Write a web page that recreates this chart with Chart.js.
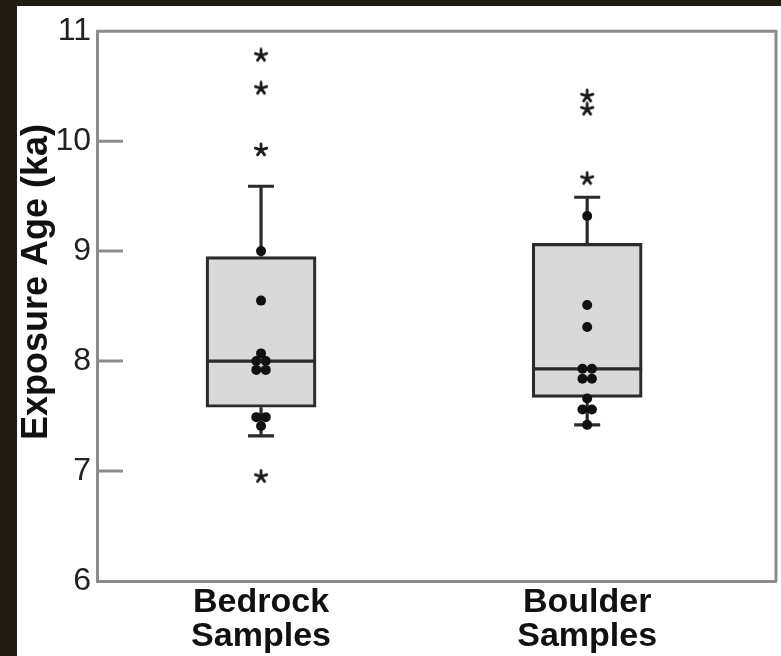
<!DOCTYPE html>
<html lang="en">
  <head>
    <meta charset="UTF-8" />
    <title>Exposure Age Box Plot</title>
    <script src="https://cdn.jsdelivr.net/npm/chart.js"></script>
    <style>
      html, body {
        margin: 0;
        padding: 0;
        background: #221d14;
      }
      #chartContainer {
        position: absolute;
        left: 17px;
        top: 6px;
        width: 764px;
        height: 650px;
        background: white;
      }
    </style>
  </head>
  <body>
    <div id="chartContainer">
      <canvas id="ageChart" width="764" height="650"></canvas>
    </div>

    <script>
      // groups along the x axis
      const categories = [['Bedrock', 'Samples'], ['Boulder', 'Samples']]
      const yTicks = [6, 7, 8, 9, 10, 11]

      // box statistics (ka)
      const q1 = [7.58, 7.67]
      const q3 = [8.95, 9.07]
      const medians = [8.0, 7.93]
      const whiskerLow = [7.32, 7.42]
      const whiskerHigh = [9.59, 9.49]

      // individual samples (ka)
      const bedrockPoints = [9.0, 8.55, 8.07, 8.0, 8.0, 7.92, 7.92, 7.49, 7.49, 7.41]
      const boulderPoints = [9.32, 8.51, 8.31, 7.93, 7.93, 7.84, 7.84, 7.66, 7.56, 7.56, 7.42]

      // outliers (ka)
      const bedrockOutliers = [10.78, 10.48, 9.92, 6.95]
      const boulderOutliers = [10.41, 10.29, 9.66]

      const FONT = '"Liberation Sans", Arial, Helvetica, sans-serif'

      // spread repeated values sideways so the dots sit next to each other
      function jitter(values, groupIndex) {
        const spread = 0.029
        const counts = {}
        values.forEach((v) => (counts[v] = (counts[v] || 0) + 1))
        const seen = {}
        return values.map((v) => {
          const k = seen[v] || 0
          seen[v] = k + 1
          return { x: groupIndex + (k - (counts[v] - 1) / 2) * spread, y: v }
        })
      }

      // small five-armed asterisk used for outliers
      const starCanvas = document.createElement('canvas')
      starCanvas.width = 16
      starCanvas.height = 16
      const sc = starCanvas.getContext('2d')
      sc.strokeStyle = '#1a1a1a'
      sc.lineWidth = 2.8
      sc.lineCap = 'round'
      sc.beginPath()
      for (let i = 0; i < 5; i++) {
        const a = -Math.PI / 2 + (i * 2 * Math.PI) / 5
        sc.moveTo(8, 8)
        sc.lineTo(8 + 6 * Math.cos(a), 8 + 6 * Math.sin(a))
      }
      sc.stroke()

      const boxPlugin = {
        id: 'boxWhiskers',
        afterDatasetDraw(chart, args) {
          if (args.index !== 0) return
          const { ctx } = chart
          const x = chart.scales.x
          const y = chart.scales.y
          const halfBox = 55
          const halfCap = 13
          ctx.save()
          ctx.strokeStyle = '#2b2b2b'
          ctx.lineWidth = 3.2
          for (let i = 0; i < medians.length; i++) {
            const cx = x.getPixelForValue(i)
            ctx.beginPath()
            // median
            ctx.moveTo(cx - halfBox, y.getPixelForValue(medians[i]))
            ctx.lineTo(cx + halfBox, y.getPixelForValue(medians[i]))
            // upper whisker
            ctx.moveTo(cx, y.getPixelForValue(q3[i]))
            ctx.lineTo(cx, y.getPixelForValue(whiskerHigh[i]))
            ctx.moveTo(cx - halfCap, y.getPixelForValue(whiskerHigh[i]))
            ctx.lineTo(cx + halfCap, y.getPixelForValue(whiskerHigh[i]))
            // lower whisker
            ctx.moveTo(cx, y.getPixelForValue(q1[i]))
            ctx.lineTo(cx, y.getPixelForValue(whiskerLow[i]))
            ctx.moveTo(cx - halfCap, y.getPixelForValue(whiskerLow[i]))
            ctx.lineTo(cx + halfCap, y.getPixelForValue(whiskerLow[i]))
            ctx.stroke()
          }
          ctx.restore()
        },
        afterDraw(chart) {
          const { ctx, chartArea } = chart
          const y = chart.scales.y
          ctx.save()
          // frame top and right, inward tick marks
          ctx.strokeStyle = '#8c8c8c'
          ctx.lineWidth = 3
          ctx.beginPath()
          ctx.moveTo(chartArea.left, chartArea.top)
          ctx.lineTo(chartArea.right, chartArea.top)
          ctx.lineTo(chartArea.right, chartArea.bottom)
          yTicks.slice(1, -1).forEach((v) => {
            ctx.moveTo(chartArea.left, y.getPixelForValue(v))
            ctx.lineTo(chartArea.left + 26, y.getPixelForValue(v))
          })
          ctx.stroke()
          // y axis title
          ctx.translate(20, 276)
          ctx.rotate(-Math.PI / 2)
          ctx.fillStyle = '#111'
          ctx.font = 'bold 36px ' + FONT
          ctx.textAlign = 'center'
          ctx.textBaseline = 'middle'
          ctx.fillText('Exposure Age (ka)', 0, 0)
          ctx.restore()
        },
      }

      const ctx = document.getElementById('ageChart').getContext('2d')
      const ageChart = new Chart(ctx, {
        type: 'bar',
        data: {
          datasets: [
            {
              type: 'bar',
              order: 2,
              data: q1.map((v, i) => ({ x: i, y: [v, q3[i]] })),
              backgroundColor: '#d9d9d9',
              borderColor: '#2b2b2b',
              borderWidth: 3.2,
              borderSkipped: false,
              barThickness: 110,
            },
            {
              type: 'scatter',
              order: 1,
              data: jitter(bedrockPoints, 0).concat(jitter(boulderPoints, 1)),
              pointRadius: 5,
              pointBackgroundColor: '#111',
              pointBorderWidth: 0,
            },
            {
              type: 'scatter',
              order: 0,
              data: bedrockOutliers
                .map((v) => ({ x: 0, y: v }))
                .concat(boulderOutliers.map((v) => ({ x: 1, y: v }))),
              pointStyle: starCanvas,
            },
          ],
        },
        options: {
          responsive: false,
          animation: false,
          layout: { padding: { left: 0, top: 21, right: 0, bottom: 0 } },
          plugins: {
            legend: { display: false },
            tooltip: { enabled: false },
          },
          scales: {
            x: {
              type: 'linear',
              offset: false,
              min: -0.503,
              max: 1.579,
              afterBuildTicks: (scale) => {
                scale.ticks = categories.map((c, i) => ({ value: i }))
              },
              afterFit: (scale) => {
                scale.height = 75
              },
              grid: { display: false, offset: false },
              border: { color: '#8c8c8c', width: 3 },
              ticks: {
                autoSkip: false,
                maxRotation: 0,
                padding: -3,
                color: '#111',
                font: { family: FONT, size: 34, weight: 'bold', lineHeight: 1 },
                callback: (value) => categories[value],
              },
            },
            y: {
              min: 6,
              max: 11,
              afterBuildTicks: (scale) => {
                scale.ticks = yTicks.map((v) => ({ value: v }))
              },
              afterFit: (scale) => {
                scale.width = 80
              },
              grid: { display: false, drawTicks: false },
              border: { color: '#8c8c8c', width: 3 },
              ticks: {
                padding: 6,
                color: '#222',
                font: { family: FONT, size: 32 },
              },
            },
          },
        },
        plugins: [boxPlugin],
      })
    </script>
  </body>
</html>
